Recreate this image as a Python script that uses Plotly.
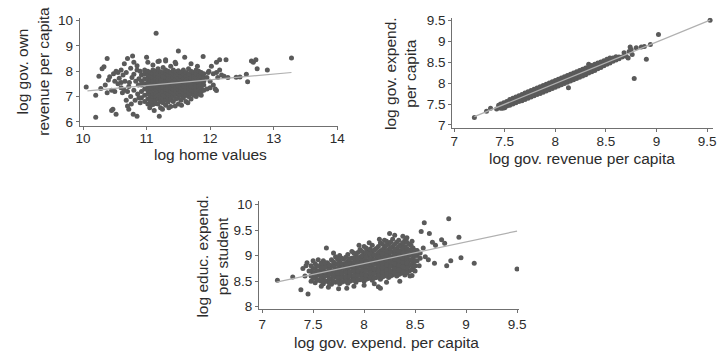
import plotly.graph_objects as go

# ---------------- Panel 1: log home values vs log gov. own revenue per capita
home_cols = [
    (10.92, [6.95, 7.2, 7.45, 7.6, 7.85]),
    (10.97, [6.8, 7.05, 7.3, 7.5, 7.7, 7.9, 8.05]),
    (11.02, [6.7, 6.9, 7.1, 7.25, 7.4, 7.55, 7.7, 7.85, 8.0, 8.35]),
    (11.06, [6.65, 6.75, 6.85, 6.95, 7.05, 7.2, 7.35, 7.5, 7.65, 7.8, 7.95]),
    (11.10, [6.68, 6.78, 6.9, 7.0, 7.12, 7.3, 7.45, 7.6, 7.75, 7.9, 8.05, 8.25]),
    (11.14, [6.72, 6.85, 7.0, 7.15, 7.28, 7.42, 7.55, 7.7, 7.85, 8.0]),
    (11.18, [6.7, 6.9, 7.05, 7.2, 7.35, 7.5, 7.62, 7.78, 7.92, 8.1, 8.38]),
    (11.22, [6.55, 6.8, 6.95, 7.1, 7.25, 7.4, 7.55, 7.7, 7.85, 7.98]),
    (11.26, [6.75, 6.92, 7.08, 7.22, 7.38, 7.52, 7.66, 7.8, 7.95, 8.15]),
    (11.30, [6.65, 6.85, 7.0, 7.15, 7.3, 7.45, 7.6, 7.75, 7.9, 8.05, 8.4]),
    (11.34, [6.78, 6.95, 7.1, 7.25, 7.4, 7.55, 7.7, 7.85, 8.0]),
    (11.38, [6.6, 6.88, 7.05, 7.2, 7.35, 7.5, 7.65, 7.8, 7.95, 8.2]),
    (11.42, [6.8, 7.0, 7.15, 7.3, 7.45, 7.6, 7.75, 7.9, 8.05]),
    (11.46, [6.9, 7.08, 7.22, 7.38, 7.52, 7.68, 7.82, 7.98, 8.3]),
    (11.50, [6.7, 6.95, 7.12, 7.28, 7.42, 7.58, 7.72, 7.88, 8.02]),
    (11.54, [6.85, 7.05, 7.2, 7.35, 7.5, 7.65, 7.8, 7.95]),
    (11.58, [6.95, 7.12, 7.28, 7.42, 7.58, 7.72, 7.88, 8.05]),
    (11.62, [6.8, 7.05, 7.2, 7.35, 7.5, 7.65, 7.8, 7.95]),
    (11.66, [7.0, 7.15, 7.3, 7.45, 7.6, 7.75, 7.9, 8.1]),
    (11.70, [6.9, 7.1, 7.25, 7.4, 7.55, 7.7, 7.85, 8.0]),
    (11.74, [7.05, 7.2, 7.35, 7.5, 7.65, 7.8, 7.95]),
    (11.78, [7.0, 7.15, 7.3, 7.45, 7.6, 7.75, 7.9, 8.05]),
    (11.82, [7.1, 7.25, 7.4, 7.55, 7.7, 7.85, 8.0]),
    (11.86, [7.05, 7.2, 7.35, 7.5, 7.65, 7.8, 7.95]),
    (11.90, [7.25, 7.45, 7.6, 7.75, 7.9]),
]
home_extra = [
    (10.05, 7.38), (10.2, 6.18), (10.2, 7.05), (10.25, 7.8), (10.28, 7.32), (10.3, 8.1),
    (10.33, 8.18), (10.38, 8.5), (10.35, 7.45), (10.4, 7.65), (10.42, 7.78), (10.45, 6.45),
    (10.47, 6.5), (10.48, 7.9), (10.52, 6.3), (10.5, 7.2), (10.52, 8.0), (10.55, 7.5),
    (10.57, 7.72), (10.6, 8.05), (10.6, 7.35), (10.62, 7.15), (10.63, 7.85), (10.65, 8.3),
    (10.66, 7.6), (10.68, 7.95), (10.7, 8.5), (10.7, 6.62), (10.72, 6.5), (10.72, 7.4),
    (10.73, 7.55), (10.75, 7.0), (10.75, 8.12), (10.77, 7.75), (10.78, 8.6), (10.79, 6.3),
    (10.8, 7.25), (10.8, 7.88), (10.82, 6.85), (10.83, 7.6), (10.85, 6.22), (10.85, 8.22),
    (10.86, 7.1), (10.87, 7.45), (10.88, 7.7), (10.9, 6.75), (10.9, 8.0), (10.45, 7.25),
    (10.55, 7.95), (10.65, 7.25), (10.6, 7.55), (10.38, 7.15), (10.5, 7.6), (10.7, 7.2),
    (10.8, 8.35), (10.85, 8.05), (10.88, 6.95), (10.76, 6.7), (10.68, 6.85),
    (11.15, 9.5), (11.0, 8.55), (11.5, 8.8), (11.6, 8.55), (11.89, 8.58), (11.3, 8.45),
    (11.45, 8.35), (11.2, 8.4), (11.7, 8.3), (11.8, 8.2),
    (11.2, 6.22), (11.25, 6.5), (11.35, 6.55), (11.45, 6.62), (11.55, 6.65), (11.65, 6.75),
    (11.12, 6.45), (11.05, 6.55),
    (11.95, 7.3), (11.97, 7.95), (12.0, 7.6), (12.02, 8.2), (12.05, 7.9), (12.05, 7.45),
    (12.1, 7.95), (12.1, 8.35), (12.12, 7.75), (12.15, 8.45), (12.15, 8.05), (12.18, 7.85),
    (12.1, 7.24), (12.22, 7.8), (12.25, 8.45), (12.28, 7.75), (12.41, 7.76), (12.47, 7.77),
    (12.57, 7.88), (12.59, 7.58), (12.65, 8.4), (12.68, 8.35), (12.72, 8.45), (12.74, 8.1),
    (12.9, 8.05), (13.28, 8.52), (11.95, 7.75), (12.0, 7.35), (11.98, 8.0), (12.08, 7.3),
]
home_fit_x = [10.07, 13.28]
home_fit_y = [7.22, 7.95]

# ---------------- Panel 2: log gov. revenue per capita vs log gov. expend. per capita
rev_cols = [
    (7.46, [7.4, 7.45, 7.5]), (7.49, [7.42, 7.47, 7.53]), (7.52, [7.45, 7.5, 7.56]),
    (7.55, [7.47, 7.53, 7.58, 7.61]), (7.58, [7.5, 7.55, 7.6, 7.64]),
    (7.61, [7.53, 7.58, 7.63, 7.67]), (7.64, [7.56, 7.61, 7.66, 7.7]),
    (7.67, [7.58, 7.64, 7.69, 7.73]), (7.70, [7.61, 7.66, 7.71, 7.76]),
    (7.73, [7.64, 7.69, 7.74, 7.79]), (7.76, [7.67, 7.72, 7.77, 7.82]),
    (7.79, [7.7, 7.75, 7.8, 7.85]), (7.82, [7.73, 7.78, 7.83, 7.88]),
    (7.85, [7.75, 7.81, 7.86, 7.91]), (7.88, [7.78, 7.84, 7.89, 7.94]),
    (7.91, [7.81, 7.87, 7.92, 7.97]), (7.94, [7.84, 7.9, 7.95, 8.0]),
    (7.97, [7.87, 7.93, 7.98, 8.03]), (8.00, [7.9, 7.96, 8.01, 8.06]),
    (8.03, [7.93, 7.99, 8.04, 8.09]), (8.06, [7.96, 8.02, 8.07, 8.12]),
    (8.09, [7.99, 8.05, 8.1, 8.15]), (8.12, [8.02, 8.08, 8.13, 8.18]),
    (8.15, [8.05, 8.11, 8.16, 8.21]), (8.18, [8.08, 8.14, 8.19, 8.24]),
    (8.21, [8.11, 8.17, 8.22, 8.27]), (8.24, [8.14, 8.2, 8.25, 8.3]),
    (8.27, [8.17, 8.23, 8.28, 8.33]), (8.30, [8.2, 8.26, 8.31, 8.36]),
    (8.33, [8.24, 8.29, 8.34, 8.39, 8.45]), (8.36, [8.27, 8.32, 8.37, 8.42]),
    (8.39, [8.3, 8.35, 8.4, 8.45]), (8.42, [8.34, 8.38, 8.43, 8.48]),
    (8.45, [8.37, 8.41, 8.46, 8.5]), (8.48, [8.41, 8.45, 8.49, 8.53]),
    (8.51, [8.45, 8.49, 8.53, 8.57]), (8.54, [8.48, 8.52, 8.56, 8.6]),
    (8.57, [8.52, 8.56, 8.6]), (8.60, [8.55, 8.59, 8.63]), (8.63, [8.58, 8.62]),
]
rev_extra = [
    (7.2, 7.18), (7.32, 7.33), (7.36, 7.4), (7.42, 7.38), (7.44, 7.47), (7.48, 7.4),
    (7.5, 7.41), (8.66, 8.62), (8.7, 8.64), (8.72, 8.6), (8.73, 8.75), (8.74, 8.86),
    (8.76, 8.68), (8.75, 8.8), (8.85, 8.86), (8.88, 8.87), (8.94, 8.92), (9.02, 9.16),
    (9.53, 9.5), (8.9, 8.57), (8.78, 8.11), (8.13, 7.89), (8.68, 8.72), (8.8, 8.84),
]
rev_fit_x = [7.2, 9.53]
rev_fit_y = [7.2, 9.5]

# ---------------- Panel 3: log gov. expend. per capita vs log educ. expend. per student
exp_cols = [
    (7.48, [8.5, 8.6, 8.7, 8.8]), (7.52, [8.47, 8.57, 8.66, 8.75, 8.84]),
    (7.56, [8.52, 8.62, 8.7, 8.79]), (7.60, [8.45, 8.55, 8.64, 8.72, 8.81, 8.9]),
    (7.64, [8.5, 8.6, 8.68, 8.77, 8.86]), (7.68, [8.44, 8.54, 8.63, 8.71, 8.8, 8.92]),
    (7.72, [8.48, 8.58, 8.66, 8.75, 8.84, 8.98]),
    (7.76, [8.45, 8.53, 8.62, 8.7, 8.79, 8.88, 9.0]),
    (7.80, [8.5, 8.58, 8.67, 8.75, 8.83, 8.93]),
    (7.84, [8.46, 8.55, 8.63, 8.72, 8.8, 8.89, 9.02]),
    (7.88, [8.52, 8.6, 8.69, 8.77, 8.86, 8.95, 9.08]),
    (7.92, [8.48, 8.57, 8.65, 8.74, 8.82, 8.91, 9.0]),
    (7.96, [8.53, 8.62, 8.7, 8.79, 8.88, 8.97, 9.12]),
    (8.00, [8.5, 8.58, 8.67, 8.75, 8.84, 8.93, 9.03, 9.18]),
    (8.04, [8.55, 8.63, 8.72, 8.81, 8.9, 8.99, 9.1]),
    (8.08, [8.52, 8.6, 8.69, 8.78, 8.87, 8.96, 9.06, 9.2]),
    (8.12, [8.57, 8.66, 8.75, 8.84, 8.93, 9.02, 9.14]),
    (8.16, [8.54, 8.63, 8.72, 8.81, 8.9, 8.99, 9.09, 9.25]),
    (8.20, [8.6, 8.69, 8.78, 8.87, 8.96, 9.05, 9.16, 9.3]),
    (8.24, [8.57, 8.66, 8.75, 8.84, 8.93, 9.02, 9.12, 9.22]),
    (8.28, [8.62, 8.71, 8.8, 8.89, 8.98, 9.07, 9.18, 9.32]),
    (8.32, [8.6, 8.68, 8.77, 8.86, 8.95, 9.04, 9.14, 9.26]),
    (8.36, [8.65, 8.74, 8.83, 8.92, 9.01, 9.1, 9.21]),
    (8.40, [8.62, 8.71, 8.8, 8.9, 9.0, 9.09, 9.18, 9.3]),
    (8.44, [8.7, 8.8, 8.9, 9.0, 9.1, 9.22]),
    (8.48, [8.75, 8.85, 8.95, 9.05, 9.15]),
    (8.52, [8.9, 9.0, 9.1]),
    (7.50, [8.55, 8.65, 8.75]), (7.54, [8.52, 8.61, 8.7, 8.8]),
    (7.58, [8.5, 8.59, 8.67, 8.76, 8.85]), (7.62, [8.5, 8.6, 8.68, 8.77, 8.86]),
    (7.66, [8.46, 8.55, 8.64, 8.73, 8.82]), (7.70, [8.5, 8.6, 8.7, 8.79, 8.88]),
    (7.74, [8.5, 8.57, 8.66, 8.75, 8.84, 8.93]),
    (7.78, [8.48, 8.57, 8.66, 8.75, 8.84, 8.95]),
    (7.82, [8.5, 8.59, 8.68, 8.76, 8.85, 8.97]),
    (7.86, [8.5, 8.6, 8.68, 8.77, 8.85, 8.94]),
    (7.90, [8.52, 8.61, 8.7, 8.79, 8.87, 8.96, 9.05]),
    (7.94, [8.53, 8.61, 8.7, 8.78, 8.87, 8.96, 9.06]),
    (7.98, [8.55, 8.63, 8.72, 8.81, 8.9, 8.99, 9.08]),
    (8.02, [8.54, 8.62, 8.71, 8.8, 8.89, 8.98, 9.07, 9.15]),
    (8.06, [8.58, 8.66, 8.75, 8.84, 8.93, 9.03, 9.13]),
    (8.10, [8.56, 8.65, 8.74, 8.83, 8.92, 9.01, 9.11]),
    (8.14, [8.6, 8.7, 8.79, 8.88, 8.97, 9.06, 9.18]),
    (8.18, [8.58, 8.67, 8.76, 8.85, 8.94, 9.03, 9.12, 9.22]),
    (8.22, [8.64, 8.73, 8.82, 8.91, 9.0, 9.09, 9.2, 9.28]),
    (8.26, [8.6, 8.7, 8.79, 8.88, 8.97, 9.06, 9.15, 9.26]),
    (8.30, [8.66, 8.75, 8.84, 8.93, 9.02, 9.11, 9.22]),
    (8.34, [8.63, 8.72, 8.81, 8.9, 8.99, 9.08, 9.18, 9.3]),
    (8.38, [8.68, 8.78, 8.87, 8.96, 9.05, 9.14, 9.25]),
    (8.42, [8.66, 8.76, 8.85, 8.95, 9.05, 9.14, 9.26]),
    (8.46, [8.72, 8.82, 8.92, 9.02, 9.12, 9.2]),
    (8.50, [8.8, 8.9, 9.0, 9.1]),
]
exp_extra = [
    (9.5, 8.74), (9.08, 8.85), (8.83, 9.72), (8.59, 9.64), (8.93, 9.36), (8.81, 8.8),
    (8.95, 8.96), (8.85, 8.9), (8.69, 8.85), (8.56, 9.47), (8.64, 9.43), (8.76, 9.31),
    (8.79, 9.24), (8.7, 9.2), (8.67, 9.26), (8.6, 8.98), (8.63, 8.92), (8.5, 8.8),
    (8.54, 8.8), (8.47, 8.61), (7.15, 8.52), (7.3, 8.58), (7.38, 8.33), (7.45, 8.25),
    (7.44, 8.86), (7.43, 8.8), (7.4, 8.75), (7.5, 8.9), (7.63, 9.15), (7.83, 8.36),
    (8.14, 8.39), (8.16, 8.36), (8.25, 9.43),
    (7.42, 8.6), (7.46, 8.7), (7.55, 8.92), (7.58, 8.4), (7.65, 8.38), (7.7, 9.05),
    (7.75, 8.35), (7.9, 8.4), (7.95, 9.2), (8.0, 8.42), (8.05, 9.25), (8.1, 8.45),
    (8.15, 9.32), (8.22, 8.48), (8.3, 9.4), (8.35, 8.5), (8.38, 9.38), (8.45, 8.6),
    (8.42, 9.35), (8.47, 9.28), (8.5, 8.7), (8.55, 9.05), (8.58, 9.15), (8.55, 8.95),
]
exp_fit_x = [7.14, 9.5]
exp_fit_y = [8.48, 9.48]


def flatten(cols, extra):
    xs, ys = [], []
    for cx, vals in cols:
        for v in vals:
            xs.append(cx)
            ys.append(v)
    for px, py in extra:
        xs.append(px)
        ys.append(py)
    return xs, ys


W, H = 727, 360
DOT = "#5a5a5a"
FIT = "#b0b0b0"
AX = "#707070"
TXT = "#2b2b2b"
FONT = "Liberation Sans, Arial, Helvetica, sans-serif"

fig = go.Figure()
panels = [
    (home_cols, home_extra, home_fit_x, home_fit_y, "x", "y"),
    (rev_cols, rev_extra, rev_fit_x, rev_fit_y, "x2", "y2"),
    (exp_cols, exp_extra, exp_fit_x, exp_fit_y, "x3", "y3"),
]
for cols, extra, fx, fy, xa, ya in panels:
    xs, ys = flatten(cols, extra)
    fig.add_trace(go.Scatter(x=xs, y=ys, mode="markers", xaxis=xa, yaxis=ya,
                             marker=dict(color=DOT, size=5, line=dict(width=0)),
                             showlegend=False, hoverinfo="skip"))
    fig.add_trace(go.Scatter(x=fx, y=fy, mode="lines", xaxis=xa, yaxis=ya,
                             line=dict(color=FIT, width=1.2),
                             showlegend=False, hoverinfo="skip"))


def dom_x(a, b):
    return [a / W, b / W]


def dom_y(top, bottom):
    return [1 - bottom / H, 1 - top / H]


def axis(domain, rng, ticks, anchor, standoff):
    return dict(domain=domain, range=rng, tickvals=ticks,
                ticktext=[("%g" % t) for t in ticks], anchor=anchor,
                showline=True, linecolor=AX, linewidth=1, ticks="outside",
                ticklen=3, tickcolor=AX, tickwidth=1, showgrid=False, zeroline=False,
                ticklabelstandoff=standoff,
                tickfont=dict(size=13.5, color=TXT, family=FONT), fixedrange=True)


fig.update_layout(
    width=W, height=H, margin=dict(l=0, r=0, t=0, b=0),
    paper_bgcolor="white", plot_bgcolor="white",
    font=dict(family=FONT, color=TXT),
    xaxis=axis(dom_x(77, 339), [9.95, 14.01], [10, 11, 12, 13, 14], "y", -3),
    yaxis=axis(dom_y(13, 124), [5.85, 10.12], [6, 7, 8, 9, 10], "x", 0),
    xaxis2=axis(dom_x(455, 720), [6.98, 9.56], [7, 7.5, 8, 8.5, 9, 9.5], "y2", -2),
    yaxis2=axis(dom_y(13, 126), [6.94, 9.56], [7, 7.5, 8, 8.5, 9, 9.5], "x2", 0),
    xaxis3=axis(dom_x(259, 523), [6.97, 9.52], [7, 7.5, 8, 8.5, 9, 9.5], "y3", -1),
    yaxis3=axis(dom_y(202, 313), [7.95, 10.06], [8, 8.5, 9, 9.5, 10], "x3", 0),
)

titles = [
    ("log home values", 210, 154, 0),
    ("log gov. own<br>revenue per capita", 29, 68, -90),
    ("log gov. revenue per capita", 587, 158, 0),
    ("log gov. expend.<br>per capita", 402, 70, -90),
    ("log gov. expend. per capita", 388, 347, 0),
    ("log educ. expend.<br>per student", 212, 259, -90),
]
for text, px, py, ang in titles:
    fig.add_annotation(text=text, x=px / W, y=1 - py / H, xref="paper", yref="paper",
                       showarrow=False, textangle=ang, xanchor="center", yanchor="middle",
                       font=dict(size=15.5, color=TXT, family=FONT))

fig.write_html(
    "out.html",
    config={"displayModeBar": False, "staticPlot": True},
    post_script="document.body.style.margin='0';document.body.style.padding='0';"
                "document.body.style.overflow='hidden';",
)
